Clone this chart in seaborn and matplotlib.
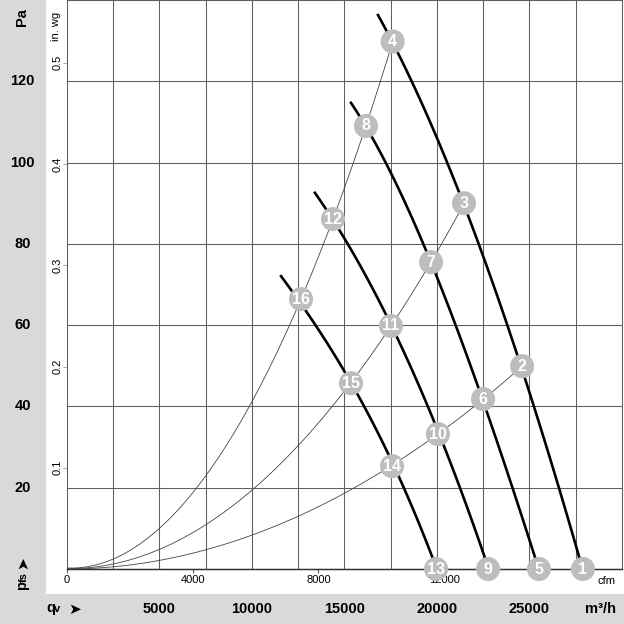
import matplotlib
matplotlib.use("Agg")
import matplotlib.pyplot as plt
from matplotlib.ticker import MultipleLocator, FixedLocator
from matplotlib.patches import Rectangle
import seaborn as sns
import pandas as pd

plt.rcParams['font.family'] = ['Liberation Sans', 'DejaVu Sans']

# ---------------- data (m3/h, Pa) ----------------
fan1_q = [16810, 17600, 20000, 21460, 23300, 24600, 26540, 27890]
fan1_p = [136.2, 129.8, 105.5, 90.0, 66.2, 49.9, 19.9, 0.0]
fan2_q = [15350, 16160, 19190, 19680, 22490, 24050, 25510]
fan2_p = [114.6, 109.0, 80.4, 75.5, 41.8, 19.9, 0.0]
fan3_q = [13400, 13860, 14380, 15240, 17510, 20050, 21350, 22760]
fan3_p = [92.0, 89.9, 86.1, 79.7, 59.8, 33.2, 19.9, 0.0]
fan4_q = [11570, 11960, 12650, 14970, 15350, 17570, 18380, 19950]
fan4_p = [71.3, 69.8, 66.4, 48.2, 45.7, 25.3, 19.9, 0.0]

sysA_q = [0, 2490, 5030, 7570, 10050, 12650, 14380, 16160, 17600]
sysA_p = [0, 2.7, 10.3, 23.5, 41.3, 66.4, 86.1, 109.0, 129.8]
sysB_q = [0, 2490, 5030, 7570, 10050, 12540, 15350, 17510, 19680, 21460]
sysB_p = [0, 1.2, 5.2, 10.8, 19.9, 30.5, 45.7, 59.8, 75.5, 90.0]
sysC_q = [0, 2490, 5030, 7570, 10050, 12540, 15080, 17570, 20050, 22490, 24600]
sysC_p = [0, 0.5, 2.2, 4.7, 8.4, 13.3, 18.9, 25.3, 33.2, 41.8, 49.9]

pt_num = list(range(1, 17))
pt_q = [27890, 24600, 21460, 17600, 25510, 22490, 19680, 16160,
        22760, 20050, 17510, 14380, 19950, 17570, 15350, 12650]
pt_p = [0.0, 49.9, 90.0, 129.8, 0.0, 41.8, 75.5, 109.0,
        0.0, 33.2, 59.8, 86.1, 0.0, 25.3, 45.7, 66.4]

m3h_ticks = [5000, 10000, 15000, 20000, 25000]
pa_ticks = [20, 40, 60, 80, 100, 120]
cfm_ticks = [0, 4000, 8000, 12000]
inwg_ticks = [0.1, 0.2, 0.3, 0.4, 0.5]

# ---------------- figure ----------------
W = 624.0
fig = plt.figure(figsize=(6.24, 6.24), dpi=100)
grey = '#d9d9d9'
fig.patches.append(Rectangle((0, 0), 46 / W, 1, transform=fig.transFigure,
                             facecolor=grey, edgecolor='none', zorder=-5))
fig.patches.append(Rectangle((0, 0), 1, 30 / W, transform=fig.transFigure,
                             facecolor=grey, edgecolor='none', zorder=-5))

ax = fig.add_axes([67 / W, 55 / W, 555 / W, 569 / W])
ax.set_xlim(0, 30000)
ax.set_ylim(0, 140)
ax.set_facecolor('white')

gcol = '#5e5e5e'

# ---------------- curves ----------------
for q, p in [(sysA_q, sysA_p), (sysB_q, sysB_p), (sysC_q, sysC_p)]:
    sns.regplot(x=q, y=p, order=2, ci=None, scatter=False, truncate=True, ax=ax,
                line_kws=dict(color='#444444', lw=0.6, zorder=3))
for q, p in [(fan1_q, fan1_p), (fan2_q, fan2_p), (fan3_q, fan3_p), (fan4_q, fan4_p)]:
    sns.regplot(x=q, y=p, order=3, ci=None, scatter=False, truncate=True, ax=ax,
                line_kws=dict(color='black', lw=1.9, zorder=4))

pts = pd.DataFrame({'q': pt_q, 'p': pt_p, 'n': pt_num})
sns.scatterplot(data=pts, x='q', y='p', ax=ax, s=300, color='#bdbdbd',
                edgecolor='none', zorder=6, clip_on=False, legend=False)
for q, p, n in zip(pt_q, pt_p, pt_num):
    ax.text(q, p, str(n), color='white', fontsize=11.5, fontweight='bold',
            ha='center', va='center', zorder=7, clip_on=False)
ax.set_xlabel('')
ax.set_ylabel('')
ax.set_xlim(0, 30000)
ax.set_ylim(0, 140)

# ---------------- axes / grid ----------------
ax.xaxis.set_major_locator(FixedLocator(m3h_ticks))
ax.xaxis.set_minor_locator(MultipleLocator(2500))
ax.yaxis.set_major_locator(FixedLocator(pa_ticks))
ax.yaxis.set_minor_locator(MultipleLocator(20))
ax.grid(which='both', color=gcol, lw=0.75)
ax.set_axisbelow(True)
for s in ax.spines.values():
    s.set_color(gcol)
    s.set_linewidth(0.75)
ax.spines['bottom'].set_color('#333333')
ax.spines['bottom'].set_linewidth(1.0)

ax.set_xticklabels([str(v) for v in m3h_ticks], fontsize=10.5, fontweight='bold')
ax.set_yticklabels([str(v) for v in pa_ticks], fontsize=10.5, fontweight='bold')
ax.tick_params(axis='x', which='both', length=0, pad=24)
ax.tick_params(axis='y', which='both', length=0, pad=32)
for lab in ax.get_yticklabels():
    lab.set_horizontalalignment('center')
    lab.set_verticalalignment('center')

secx = ax.secondary_xaxis('bottom', functions=(lambda q: q / 1.699, lambda c: c * 1.699))
secx.xaxis.set_major_locator(FixedLocator(cfm_ticks))
secx.set_xticklabels([str(v) for v in cfm_ticks], fontsize=8)
secx.tick_params(length=3, width=0.8, color=gcol, pad=1.5)
secx.spines['bottom'].set_color('#333333')

secy = ax.secondary_yaxis('left', functions=(lambda p: p / 249.09, lambda w: w * 249.09))
secy.yaxis.set_major_locator(FixedLocator(inwg_ticks))
secy.set_yticklabels([f"{v:.1f}" for v in inwg_ticks], fontsize=8, rotation=90)
secy.tick_params(length=3, width=0.8, color='#aaaaaa', pad=4)
secy.spines['left'].set_visible(False)
for lab in secy.get_yticklabels():
    lab.set_horizontalalignment('center')
    lab.set_verticalalignment('center')

# ---------------- annotations ----------------
def ftxt(x, y, s, **kw):
    fig.text(x / W, 1 - y / W, s, **kw)

ftxt(22, 17, 'Pa', fontsize=10.5, fontweight='bold', rotation=90, ha='center', va='center')
ftxt(56, 26, 'in. wg', fontsize=8, rotation=90, ha='center', va='center')
# p_fs with arrow (rotated, baseline on the right)
ftxt(26.5, 590, 'p', fontsize=10.5, fontweight='bold', rotation=90,
     rotation_mode='anchor', ha='left', va='baseline')
ftxt(26.5, 581.5, 'fs', fontsize=8, fontweight='bold', rotation=90,
     rotation_mode='anchor', ha='left', va='baseline')
ftxt(23, 562.5, '➤', fontsize=11, rotation=90, ha='center', va='center',
     family=['DejaVu Sans'])
# q_v with arrow
ftxt(46, 612, 'q', fontsize=10.5, fontweight='bold', ha='left', va='baseline')
ftxt(54, 612, 'v', fontsize=8, fontweight='bold', ha='left', va='baseline')
ftxt(75, 609.5, '➤', fontsize=11, ha='center', va='center', family=['DejaVu Sans'])
ftxt(600, 609, 'm³/h', fontsize=10.5, fontweight='bold', ha='center', va='center')
ftxt(607, 581, 'cfm', fontsize=8, ha='center', va='center')

fig.savefig('out.png', dpi=100)
